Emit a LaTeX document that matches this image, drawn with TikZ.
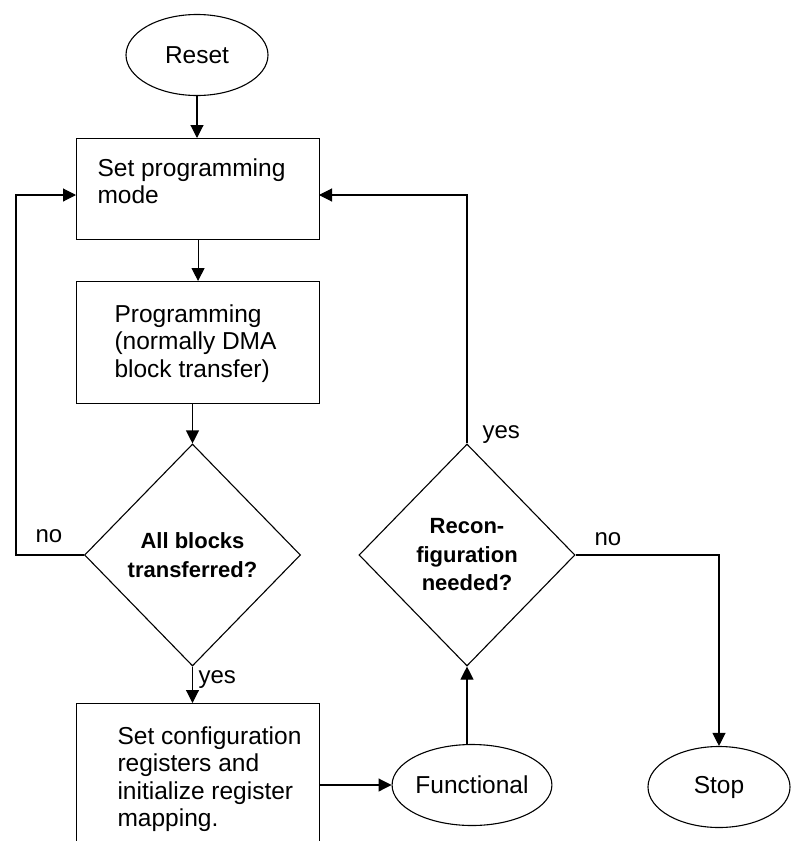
\documentclass[tikz,border=0pt]{standalone}
\usepackage{fontspec}
\setmainfont{Liberation Sans}
\usetikzlibrary{shapes.geometric,arrows.meta}
\begin{document}
\begin{tikzpicture}[x=1pt,y=-1pt,
  line width=1.1pt,
  arr/.style={-{Triangle[width=13pt,length=13pt]}},
  oval/.style={draw, ellipse, minimum width=142pt, minimum height=81pt, inner sep=0pt, font=\fontsize{24.5}{27}\selectfont},
  procbox/.style={draw, rectangle, anchor=north west, inner sep=0pt},
  boxtext/.style={anchor=north west, inner sep=0pt, align=left, font=\fontsize{24.5}{27.5}\selectfont},
  decision/.style={draw, diamond, minimum width=216pt, minimum height=222pt, inner sep=0pt, align=center, font=\fontsize{22}{28.5}\selectfont\bfseries},
  lbl/.style={anchor=base west, inner sep=0pt, font=\fontsize{24}{28}\selectfont}]
\useasboundingbox (0,0) rectangle (798,841);
\clip (0,0) rectangle (798,841);
% shapes
\node[oval] (reset) at (197,55) {Reset};
\node[procbox, minimum width=243pt, minimum height=101pt] (box1) at (76,138) {};
\node[procbox, minimum width=243pt, minimum height=122pt] (box2) at (76,281) {};
\node[procbox, minimum width=243pt, minimum height=175pt] (box3) at (76,703) {};
\node[boxtext] (t1) at (97,158) {Set programming\\mode};
\node[boxtext] (t2) at (114,304) {Programming\\(normally DMA\\block transfer)};
\node[boxtext] (t3) at (117,726) {Set configuration\\registers and\\initialize register\\mapping.};
\node[decision] (d1) at (192.5,555) {All blocks\\transferred?};
\node[decision] (d2) at (467,555) {Recon-\\figuration\\needed?};
\node[oval] (func) at (472,785) {Functional};
\node[oval] (stop) at (719,787) {Stop};
% helper coordinates
\coordinate (b1l) at (76,195);
\coordinate (b1r) at (319,195);
\coordinate (lx) at (16,195);
% connectors
\draw[arr] (reset.south) -- (reset.south |- box1.north);
\draw[arr] (box1.south) -- (box2.north);
\draw[arr] (d1.north |- box2.south) -- (d1.north);
\draw[arr] (d1.south) -- (d1.south |- box3.north);
\draw[arr] (d1.west) -| (lx) -- (b1l);
\draw[arr] (d2.north) |- (b1r);
\draw[arr] (d2.east) -| (stop.north);
\draw[arr] (func.north -| d2.south) -- (d2.south);
\draw[arr] (box3.east |- func.west) -- (func.west);
% labels
\node[lbl] (no1) at (35,542) {no};
\node[lbl] (yes1) at (198,683) {yes};
\node[lbl] (yes2) at (482,438) {yes};
\node[lbl] (no2) at (594,545) {no};
\end{tikzpicture}
\end{document}
